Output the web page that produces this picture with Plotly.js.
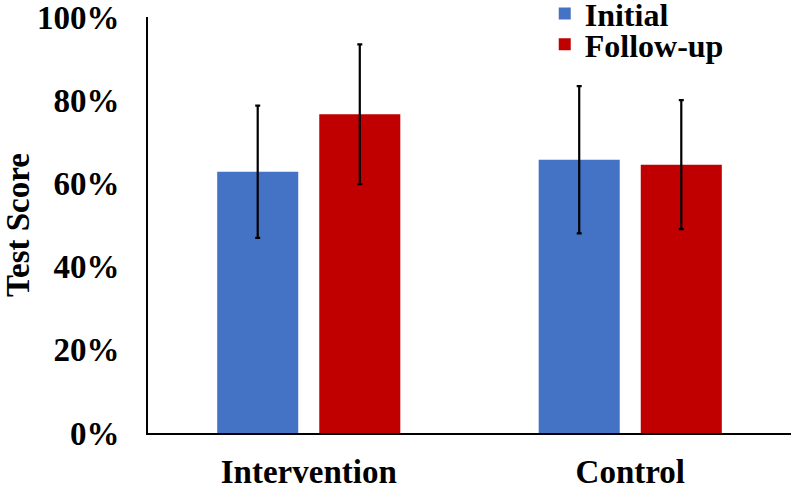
<!DOCTYPE html>
<html>
<head>
<meta charset="utf-8">
<script src="https://cdn.plot.ly/plotly-3.0.1.min.js"></script>
<style>html,body{margin:0;padding:0;background:#fff;}#chart{width:793px;height:486px;}</style>
</head>
<body>
<div id="chart"></div>
<script>
const categories = ['Intervention', 'Control'];
const initialScores = [0.628, 0.657];
const initialErrors = [0.159, 0.177];
const followUpScores = [0.766, 0.645];
const followUpErrors = [0.168, 0.155];
const seriesNames = ['Initial', 'Follow-up'];
const yTickVals = [0, 0.2, 0.4, 0.6, 0.8, 1.0];

const FONT = 'Liberation Serif, Times New Roman, serif';

const traces = [
  {
    type: 'bar', name: seriesNames[0], x: categories, y: initialScores,
    marker: {color: '#4472C4'},
    error_y: {type: 'data', array: initialErrors, visible: true, color: '#000', thickness: 2.2, width: 2.5},
    legend: 'legend'
  },
  {
    type: 'bar', name: seriesNames[1], x: categories, y: followUpScores,
    marker: {color: '#C00000'},
    error_y: {type: 'data', array: followUpErrors, visible: true, color: '#000', thickness: 2.2, width: 2.5},
    legend: 'legend2'
  }
];

const legendFont = {family: FONT, size: 32, color: '#000', weight: 700};

const layout = {
  width: 793, height: 486,
  margin: {l: 148, r: 2, t: 17, b: 53, autoexpand: false},
  paper_bgcolor: '#fff', plot_bgcolor: '#fff',
  barmode: 'group', bargap: 0.365, bargroupgap: 0.206,
  font: {family: FONT, size: 33, color: '#000', weight: 700},
  xaxis: {
    type: 'category', range: [-0.5, 1.5],
    showline: true, linecolor: '#000', linewidth: 2,
    ticks: '', showgrid: false, zeroline: false,
    ticklabelstandoff: 8, automargin: false, ticklabeloverflow: 'allow',
    tickfont: {family: FONT, size: 33, color: '#000', weight: 700}
  },
  yaxis: {
    range: [0, 1], tickvals: yTickVals, tickformat: '.0%',
    showline: true, linecolor: '#000', linewidth: 2,
    ticks: '', showgrid: false, zeroline: false,
    ticklabelstandoff: 20, automargin: true, ticklabeloverflow: 'allow',
    tickfont: {family: FONT, size: 33, color: '#000', weight: 700},
    title: {text: 'Test Score', font: {family: FONT, size: 33, color: '#000', weight: 700}, standoff: 30}
  },
  showlegend: true,
  legend: {x: 0.617, xanchor: 'left', y: 1.074, yanchor: 'top', bgcolor: 'rgba(0,0,0,0)', font: legendFont, borderwidth: 0},
  legend2: {x: 0.617, xanchor: 'left', y: 1.0, yanchor: 'top', bgcolor: 'rgba(0,0,0,0)', font: legendFont, borderwidth: 0}
};

Plotly.newPlot('chart', traces, layout, {displayModeBar: false, staticPlot: true});
</script>
</body>
</html>
